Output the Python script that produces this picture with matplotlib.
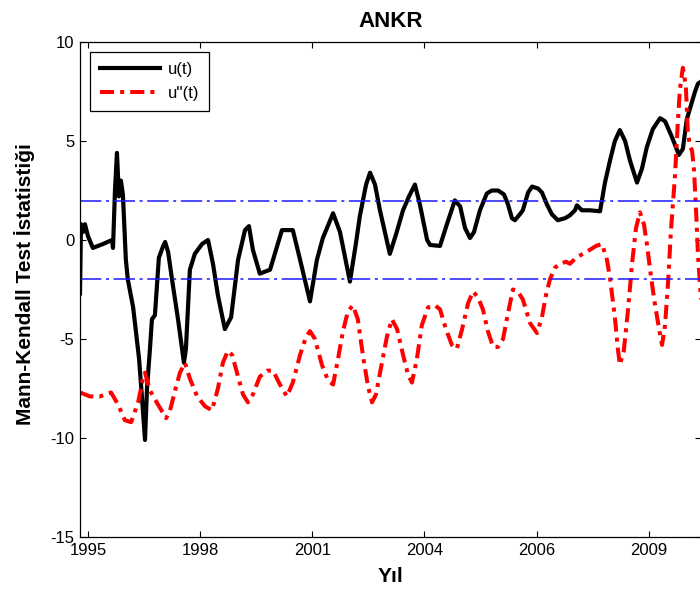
import matplotlib
matplotlib.use("Agg")
import matplotlib.pyplot as plt

plt.rcParams['font.family'] = ['Liberation Sans', 'DejaVu Sans']
plt.rcParams['axes.unicode_minus'] = False

# months since start of record
u_month = [0, 0.3, 0.9, 1.5, 2.4, 3.9, 7.0, 9.7, 10.0, 10.6, 11.2, 11.8, 12.4, 13.0,
           13.9, 14.5, 16.1, 17.9, 18.8, 19.7, 20.3, 21.2, 21.8, 22.7, 23.9, 25.2,
           25.8, 26.7, 27.9, 29.7, 31.5, 32.1, 33.3, 34.8, 37.0, 38.8, 40.3, 41.8,
           43.9, 45.8, 47.9, 50.0, 51.2, 52.4, 54.5, 57.6, 59.4, 61.2, 64.5, 66.7,
           69.7, 71.8, 73.6, 76.7, 78.8, 81.8, 83.6, 84.8, 86.7, 87.9, 89.4, 90.9,
           93.9, 95.8, 97.9, 99.7, 101.5, 103.0, 105.2, 106.1, 109.1, 111.2, 113.6,
           115.2, 116.7, 118.2, 119.4, 121.2, 123.3, 124.8, 126.7, 128.5, 129.7,
           130.9, 131.8, 133.3, 134.2, 135.8, 137.0, 138.8, 140.0, 141.5, 143.0,
           144.8, 147.0, 148.5, 150.0, 150.6, 152.1, 154.5, 157.6, 159.1, 160.6,
           162.1, 163.6, 165.2, 166.7, 168.8, 170.3, 171.8, 173.6, 175.8, 177.3,
           179.4, 181.5, 182.7, 183.9, 185.5, 186.4, 187.3, 188.2]
u_val = [-2.7, 0.8, 0.4, 0.8, 0.2, -0.4, -0.2, 0.0, -0.4, 2.5, 4.4, 2.2, 3.0, 2.3,
         -1.0, -2.0, -3.4, -6.0, -8.0, -10.1, -7.5, -5.5, -4.0, -3.8, -0.9, -0.3,
         -0.1, -0.6, -2.0, -4.0, -6.2, -5.5, -1.5, -0.7, -0.2, 0.0, -1.2, -2.8,
         -4.5, -3.9, -1.0, 0.5, 0.7, -0.5, -1.7, -1.5, -0.5, 0.5, 0.5, -1.0,
         -3.1, -1.0, 0.1, 1.35, 0.4, -2.1, -0.2, 1.2, 2.8, 3.4, 2.8, 1.5,
         -0.7, 0.3, 1.5, 2.2, 2.8, 1.8, 0.0, -0.25, -0.3, 0.8, 2.0,
         1.7, 0.6, 0.1, 0.4, 1.5, 2.35, 2.5, 2.5, 2.3, 1.8,
         1.1, 1.0, 1.3, 1.5, 2.4, 2.7, 2.6, 2.4, 1.8, 1.3,
         1.0, 1.1, 1.25, 1.5, 1.75, 1.5, 1.5, 1.45, 2.9, 4.0,
         5.0, 5.55, 5.0, 4.0, 2.9, 3.6, 4.7, 5.6, 6.15, 6.0,
         5.2, 4.3, 4.6, 6.1, 7.0, 7.5, 7.9, 8.0]

ur_month = [0, 3.0, 6.1, 9.4, 11.5, 13.6, 15.5, 17.6, 19.1, 19.7, 21.2, 23.6, 26.1,
            27.3, 28.8, 30.3, 31.8, 33.3, 35.5, 37.9, 40.0, 41.8, 43.3, 44.8, 46.1,
            47.9, 49.4, 50.9, 52.4, 54.5, 56.7, 58.5, 60.6, 62.7, 64.5, 66.7, 68.5,
            69.7, 71.2, 73.3, 75.2, 76.7, 78.2, 79.7, 81.2, 82.7, 84.2, 85.8, 87.3,
            88.5, 89.7, 91.5, 93.0, 94.5, 96.1, 97.9, 99.4, 100.6, 102.1, 103.6,
            105.5, 107.6, 109.1, 110.9, 112.7, 114.2, 115.8, 117.6, 119.1, 120.6,
            122.1, 123.6, 125.2, 126.7, 128.2, 129.7, 131.2, 132.7, 134.2, 136.4,
            138.5, 140.0, 141.2, 142.4, 143.9, 145.5, 147.3, 148.5, 150.3, 152.4,
            154.5, 156.4, 158.2, 159.7, 160.6, 162.1, 163.0, 163.6, 164.8, 166.1,
            167.3, 168.5, 169.7, 170.9, 171.8, 173.0, 174.2, 175.5, 176.4, 177.3,
            178.2, 179.1, 180.3, 181.2, 181.8, 182.7, 183.6, 184.2, 184.8, 185.5,
            186.1, 186.7, 187.3, 188.2]
ur_val = [-7.7, -7.9, -7.9, -7.7, -8.3, -9.1, -9.2, -8.2, -7.0, -6.7, -7.6, -8.3, -9.0,
          -8.6, -7.6, -6.7, -6.2, -7.0, -7.9, -8.4, -8.6, -7.5, -6.2, -5.6, -5.8,
          -6.9, -7.8, -8.2, -7.8, -6.9, -6.6, -6.6, -7.3, -7.9, -7.2, -5.8, -4.9,
          -4.6, -5.0, -6.3, -7.1, -7.3, -6.0, -4.6, -3.6, -3.3, -4.0, -5.9, -7.4,
          -8.2, -7.8, -6.2, -4.9, -4.0, -4.5, -5.8, -6.8, -7.2, -6.0, -4.3,
          -3.4, -3.3, -3.5, -4.5, -5.3, -5.5, -4.5, -3.2, -2.6, -2.9,
          -3.5, -4.6, -5.4, -5.4, -5.0, -3.7, -2.5, -2.6, -3.0, -4.2,
          -4.7, -3.9, -2.8, -2.0, -1.4, -1.2, -1.1, -1.2, -0.9, -0.7,
          -0.5, -0.3, -0.2, -1.0, -1.9, -3.9, -5.5, -6.3, -5.6, -3.5,
          -1.2, 0.6, 1.4, 0.8, -0.2, -1.8, -3.2, -4.5, -5.3, -4.3,
          -2.2, 0.5, 3.2, 6.0, 7.6, 8.7, 7.8, 5.5, 4.8, 4.5,
          3.5, 1.5, -0.8, -3.0]

limit = 1.96
tick_month = [2.4, 36.4, 70.4, 104.4, 138.4, 172.4]
tick_year = ['1995', '1998', '2001', '2004', '2006', '2009']
y_ticks = [-15, -10, -5, 0, 5, 10]

fig = plt.figure(figsize=(7.0, 5.92), dpi=100)
ax = fig.add_axes([80 / 700, 1 - 537 / 592, 621 / 700, 495 / 592])

ax.plot(u_month, u_val, color='black', lw=3.0, label='u(t)', solid_joinstyle='round')
ax.plot(ur_month, ur_val, color='red', lw=2.9, linestyle=(0, (3.5, 1.5, 1, 1.5)),
        label="u''(t)")
blue_dash = (0, (14, 3, 2, 3))
ax.plot([0, 188.2], [limit, limit], color='#1a1aff', lw=1.1, linestyle=blue_dash)
ax.plot([0, 188.2], [-limit, -limit], color='#1a1aff', lw=1.1, linestyle=blue_dash)

ax.set_xlim(0, 188.2)
ax.set_ylim(-15, 10)
ax.set_xticks(tick_month)
ax.set_xticklabels(tick_year)
ax.set_yticks(y_ticks)
ax.tick_params(direction='in', top=True, right=True, length=4, width=0.8,
               labelsize=12, pad=4)
for s in ax.spines.values():
    s.set_linewidth(0.9)

ax.set_title('ANKR', fontsize=16, fontweight='bold', pad=11)
ax.set_xlabel('Yıl', fontsize=15, fontweight='bold')
ax.xaxis.set_label_coords(0.5, -0.06)
ax.set_ylabel('Mann-Kendall Test İstatistiği', fontsize=15, fontweight='bold')
ax.yaxis.set_label_coords(-0.072, 0.51)

leg = ax.legend(loc='upper left', fontsize=12, handlelength=3.6, handletextpad=0.45,
                fancybox=False, framealpha=1, edgecolor='black', borderaxespad=0.6,
                borderpad=0.6, labelspacing=0.55)
leg.get_frame().set_linewidth(0.9)

fig.savefig('out.png', dpi=100)
